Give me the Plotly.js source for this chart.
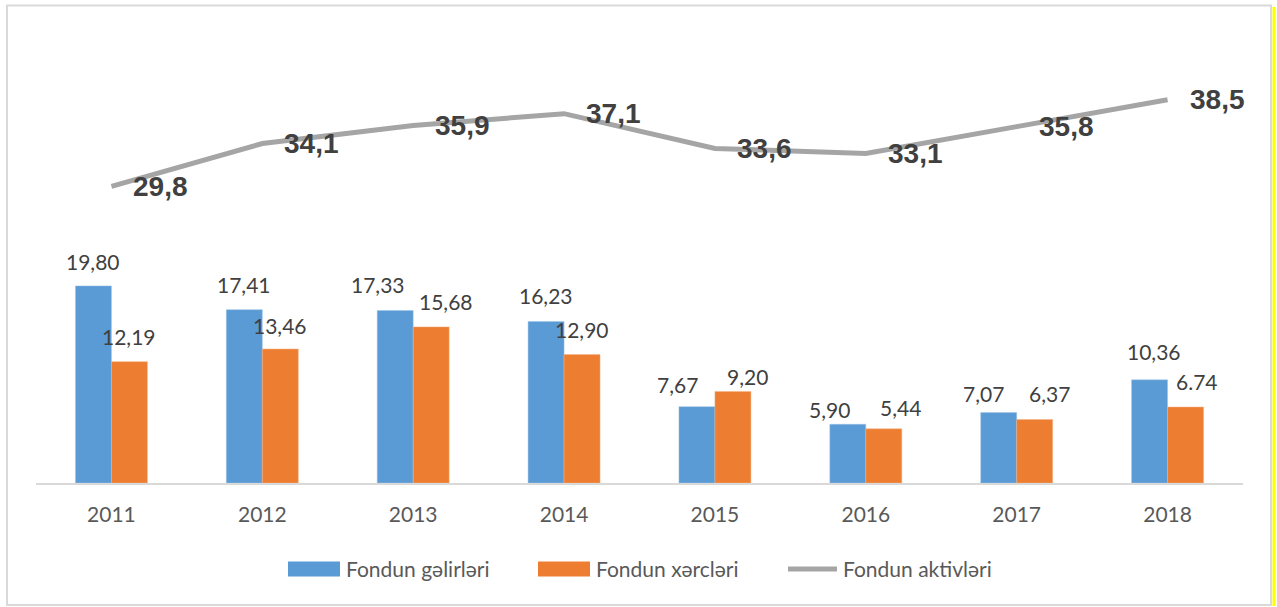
<!DOCTYPE html>
<html>
<head>
<meta charset="utf-8">
<script src="https://cdn.plot.ly/plotly-3.0.1.min.js"></script>
<style>html,body{margin:0;padding:0;background:#fff;}#chart{width:1277px;height:607px;}</style>
</head>
<body>
<div id="chart"></div>
<script>
const years = ['2011','2012','2013','2014','2015','2016','2017','2018'];
const incomes = [19.80, 17.41, 17.33, 16.23, 7.67, 5.90, 7.07, 10.36];
const incomeLabels = ['19,80','17,41','17,33','16,23','7,67','5,90','7,07','10,36'];
// bar heights as drawn in the picture (the 2018 bar is drawn taller than its "6.74" label)
const expenses = [12.19, 13.46, 15.68, 12.90, 9.20, 5.44, 6.37, 7.63];
const expenseLabels = ['12,19','13,46','15,68','12,90','9,20','5,44','6,37','6.74'];
const assets = [29.8, 34.1, 35.9, 37.1, 33.6, 33.1, 35.8, 38.5];
const assetLabels = ['29,8','34,1','35,9','37,1','33,6','33,1','35,8','38,5'];
const seriesNames = ['Fondun gəlirləri', 'Fondun xərcləri', 'Fondun aktivləri'];
const seriesColors = ['#5b9bd5', '#ed7d31', '#a5a5a5'];

// label nudges (pixels) — layout only, mimicking the manually placed labels of the original
const incNudgeX = [0, 0, -17, 0, -19, -18, -15, 4];
const incNudgeY = [24, 25, 26, 26, 22, 15, 19, 28];
const expNudgeX = [0, 0, 15, 0, 15, 17, 15, 11];
const expNudgeY = [25, 24, 25, 25, 15, 21, 26, 26];

const traces = [
  {type:'bar', name:seriesNames[0], x:years, y:incomes,
   marker:{color:seriesColors[0], line:{color:'#9cc3e6', width:0.5}}, hoverinfo:'y'},
  {type:'bar', name:seriesNames[1], x:years, y:expenses,
   marker:{color:seriesColors[1], line:{color:'#f4b183', width:0.5}}, hoverinfo:'y'},
  {type:'scatter', mode:'lines', name:seriesNames[2], x:years, y:assets,
   line:{color:seriesColors[2], width:5}}
];

const px = v => (v - 36) / 1207;
const py = v => (483 - v) / 448;

const labelFont = {family:'Lato, sans-serif', size:21, color:'#404040'};
const annotations = [];
years.forEach((yr, i) => {
  annotations.push({x:i, y:incomes[i], xref:'x', yref:'y', text:incomeLabels[i], showarrow:false,
    xshift:-18 + incNudgeX[i], yshift:incNudgeY[i], yanchor:'middle', font:labelFont});
  annotations.push({x:i, y:expenses[i], xref:'x', yref:'y', text:expenseLabels[i], showarrow:false,
    xshift:18 + expNudgeX[i], yshift:expNudgeY[i], yanchor:'middle', font:labelFont});
  annotations.push({x:i, y:assets[i], xref:'x', yref:'y', text:'<b>'+assetLabels[i]+'</b>', showarrow:false,
    xanchor:'left', xshift:20, yshift:0, yanchor:'middle',
    font:{family:'Liberation Sans, Arial, sans-serif', size:28, color:'#404040'}});
});

// custom legend (swatches + text)
const legendY = 569;
const legendX = [288, 538, 785];
const shapes = [
  {type:'rect', xref:'paper', yref:'paper', x0:px(7), x1:px(1271), y0:py(605), y1:py(5.5),
   line:{color:'#d9d9d9', width:2}, fillcolor:'rgba(0,0,0,0)', layer:'below'},
  {type:'line', xref:'paper', yref:'paper', x0:px(1274), x1:px(1274), y0:py(606), y1:py(7),
   line:{color:'#ffff00', width:3}}
];
seriesNames.forEach((nm, k) => {
  const x0 = legendX[k];
  if (k < 2) {
    shapes.push({type:'rect', xref:'paper', yref:'paper', x0:px(x0), x1:px(x0+52),
      y0:py(legendY+7.5), y1:py(legendY-7.5), line:{width:0}, fillcolor:seriesColors[k]});
  } else {
    shapes.push({type:'line', xref:'paper', yref:'paper', x0:px(x0+3), x1:px(x0+52),
      y0:py(legendY), y1:py(legendY), line:{color:seriesColors[k], width:5}});
  }
  annotations.push({x:px(x0+56), y:py(legendY-1), xref:'paper', yref:'paper', text:nm, showarrow:false,
    xanchor:'left', yanchor:'middle', font:{family:'Lato, sans-serif', size:21, color:'#595959'}});
});

const layout = {
  width:1277, height:607,
  margin:{l:36, r:34, t:35, b:124},
  paper_bgcolor:'#ffffff', plot_bgcolor:'#ffffff',
  barmode:'group', bargap:0.523, bargroupgap:0,
  showlegend:false,
  xaxis:{type:'category', range:[-0.5, 7.5], showline:true, linecolor:'#d9d9d9', linewidth:2,
    ticks:'', showgrid:false, zeroline:false, fixedrange:true,
    tickfont:{family:'Lato, sans-serif', size:21, color:'#595959'}, ticklabelstandoff:12},
  yaxis:{range:[0, 45], visible:false, showgrid:false, zeroline:false, fixedrange:true},
  annotations:annotations,
  shapes:shapes
};

Plotly.newPlot('chart', traces, layout, {displayModeBar:false, staticPlot:true});
</script>
</body>
</html>
